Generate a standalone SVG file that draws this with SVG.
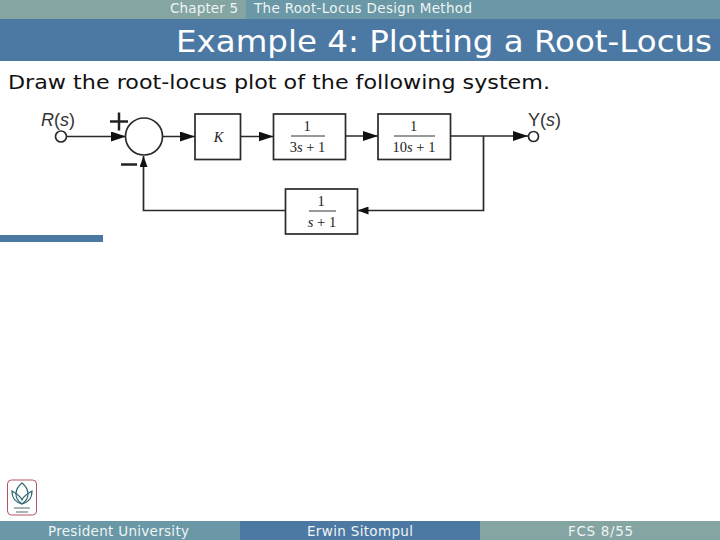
<svg xmlns="http://www.w3.org/2000/svg" width="720" height="540" viewBox="0 0 720 540">
<style>
.ui{font-family:"DejaVu Sans",Verdana,sans-serif}
.w{fill:#eef4f4}
.box{fill:#fff;stroke:#2a2a2a;stroke-width:1.7}
.ln{fill:none;stroke:#2a2a2a;stroke-width:1.7}
.lbl{font-family:"Liberation Sans",Arial,sans-serif;font-size:18px;fill:#333}
.m{font-family:"Liberation Serif","Times New Roman",serif;font-size:14.5px;fill:#222;text-anchor:middle}
.i{font-style:italic}
.frac{stroke:#333;stroke-width:1}
</style>
<defs>
<marker id="ah" markerUnits="userSpaceOnUse" markerWidth="16" markerHeight="10" refX="15" refY="5" orient="auto"><path d="M0 0L15 5L0 10Z" fill="#111"/></marker>
<marker id="ahs" markerUnits="userSpaceOnUse" markerWidth="12" markerHeight="8" refX="11" refY="4" orient="auto"><path d="M0 0L11 4L0 8Z" fill="#111"/></marker>
</defs>
<rect width="720" height="540" fill="#fff"/>
<g id="header">
<rect x="0" y="0" width="246" height="19" fill="#85a5a3"/>
<rect x="246" y="0" width="474" height="19" fill="#6a98a6"/>
<rect x="0" y="19" width="720" height="42" fill="#4c78a4"/>
<text class="ui w" x="170" y="13" font-size="13.5" textLength="68" lengthAdjust="spacing">Chapter 5</text>
<text class="ui w" x="254" y="13" font-size="13.5" textLength="218" lengthAdjust="spacing">The Root-Locus Design Method</text>
<text class="ui" x="176" y="52" font-size="31" fill="#fff" textLength="536" lengthAdjust="spacingAndGlyphs">Example 4: Plotting a Root-Locus</text>
</g>
<text class="ui" x="8" y="89" font-size="20" fill="#111" textLength="542" lengthAdjust="spacingAndGlyphs">Draw the root-locus plot of the following system.</text>
<rect id="accent-bar" x="0" y="235" width="103" height="7" fill="#4c78a4"/>
<g id="connectors">
<path class="ln" d="M66 136.500H126" marker-end="url(#ah)"/>
<path class="ln" d="M162 136.500H195" marker-end="url(#ah)"/>
<path class="ln" d="M240.500 136.500H273.500" marker-end="url(#ah)"/>
<path class="ln" d="M345.500 136H378" marker-end="url(#ah)"/>
<path class="ln" d="M450.500 136H528" marker-end="url(#ah)"/>
<path class="ln" d="M483.500 136V210.500H357.500" marker-end="url(#ahs)"/>
<path class="ln" d="M285.500 210.500H143.500V156" marker-end="url(#ahs)"/>
</g>
<g id="input">
<circle class="ln" cx="61" cy="136.500" r="5.500"/>
<text class="lbl" x="41" y="126"><tspan class="i">R</tspan>(<tspan class="i">s</tspan>)</text>
</g>
<g id="sum">
<circle class="ln" cx="144" cy="136.500" r="18.500"/>
<path d="M110 121.500H128M119 112.500V130.500M121 164.500H137" stroke="#222" stroke-width="2.500" fill="none"/>
</g>
<g id="gain">
<rect class="box" x="195" y="114" width="45.500" height="45.500"/>
<text class="m i" x="218.500" y="142">K</text>
</g>
<g id="block1">
<rect class="box" x="273.500" y="114" width="72" height="45.500"/>
<text class="m" x="307" y="130.500">1</text>
<line class="frac" x1="291" y1="136" x2="325" y2="136"/>
<text class="m" x="307.500" y="152">3<tspan class="i">s</tspan> + 1</text>
</g>
<g id="block2">
<rect class="box" x="378" y="114" width="72.500" height="45.500"/>
<text class="m" x="413.700" y="130.500">1</text>
<line class="frac" x1="394" y1="136" x2="435" y2="136"/>
<text class="m" x="414" y="152">10<tspan class="i">s</tspan> + 1</text>
</g>
<g id="feedback">
<rect class="box" x="285.500" y="189" width="72" height="45"/>
<text class="m" x="321" y="205.500">1</text>
<line class="frac" x1="309" y1="211" x2="336" y2="211"/>
<text class="m" x="322" y="227"><tspan class="i">s</tspan> + 1</text>
</g>
<g id="output">
<circle class="ln" cx="533.500" cy="136.500" r="5"/>
<text class="lbl" x="528" y="126">Y(<tspan class="i">s</tspan>)</text>
</g>
<g id="logo" fill="none">
<rect x="7.500" y="480" width="29" height="35" rx="4" stroke="#b25560" stroke-width="1"/>
<path d="M22 483C27 487 28 491 28 494C28 499 25 502 22 504C19 502 16 499 16 494C16 491 17 487 22 483Z" stroke="#2f6670" stroke-width="1.200"/>
<path d="M12 491C12 499 17 503 22 504C27 503 32 499 32 491C29 493 24 495 22 500C20 495 15 493 12 491Z" stroke="#2f6670" stroke-width="1.200"/>
<path d="M14 508H30M16 512H28" stroke="#8a9a9c" stroke-width="1.500"/>
</g>
<g id="footer">
<rect x="0" y="521" width="240" height="19" fill="#6a98a6"/>
<rect x="240" y="521" width="240" height="19" fill="#4c78a4"/>
<rect x="480" y="521" width="240" height="19" fill="#85a5a3"/>
<text class="ui w" x="48" y="536" font-size="13.5" textLength="141" lengthAdjust="spacing">President University</text>
<text class="ui w" x="307" y="536" font-size="13.5" textLength="106" lengthAdjust="spacing">Erwin Sitompul</text>
<text class="ui w" x="568" y="536" font-size="13.5" textLength="65" lengthAdjust="spacing">FCS 8/55</text>
</g>
</svg>
